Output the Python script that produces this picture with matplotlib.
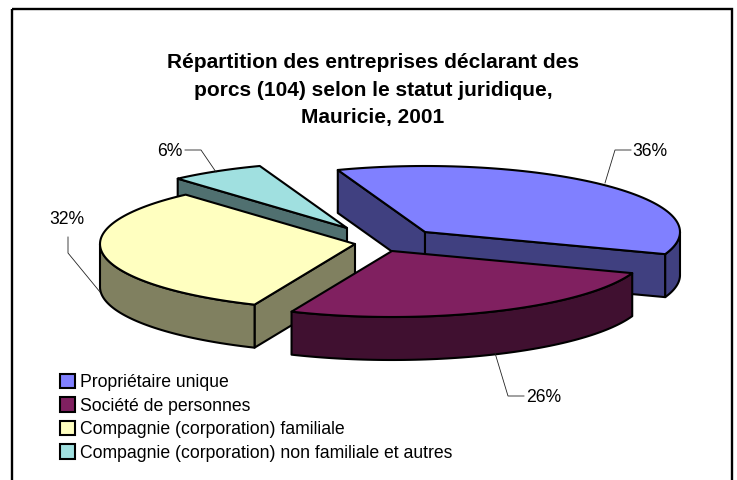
import numpy as np
import matplotlib
matplotlib.use("Agg")
import matplotlib.pyplot as plt
from matplotlib.patches import Polygon, Rectangle, Patch

plt.rcParams['font.family'] = ['Liberation Sans', 'DejaVu Sans']

title = "Répartition des entreprises déclarant des\nporcs (104) selon le statut juridique,\nMauricie, 2001"
categories = ["Propriétaire unique", "Société de personnes",
              "Compagnie (corporation) familiale",
              "Compagnie (corporation) non familiale et autres"]
values = [36, 26, 32, 6]
top_colors = ["#8080FF", "#802060", "#FFFFC0", "#A0E0E0"]
wall_colors = ["#404080", "#401030", "#808060", "#507070"]
apexes = [(425, 232), (392, 251), (355, 244), (347, 228)]   # exploded slice centres
draw_order = [0, 3, 2, 1]
start_angle = 110
RX, RY, DEPTH = 255, 66, 43
EDGE = 1.5

fig = plt.figure(figsize=(7.37, 4.80), dpi=100, facecolor="white")
ax = fig.add_axes([0, 0, 1, 1])
ax.set_xlim(0, 737)
ax.set_ylim(480, 0)
ax.axis("off")

ax.add_patch(Rectangle((12, 9), 720, 490, fill=False, ec="black", lw=1.7))


def rim(c, a0, a1, drop=0):
    t = np.radians(np.linspace(a0, a1, 80))
    return np.column_stack([c[0] + RX * np.cos(t), c[1] - RY * np.sin(t) + drop])


def wall(c, pts, color):
    verts = np.vstack([pts, (pts + [0, DEPTH])[::-1]])
    ax.add_patch(Polygon(verts, closed=True, fc=color, ec="black", lw=EDGE, joinstyle="round"))


edges = start_angle - np.cumsum([0] + values) * 3.6
for i in draw_order:
    c, a0, a1 = apexes[i], edges[i], edges[i + 1]
    for a, vis in ((a0, np.cos(np.radians(a0)) < 0), (a1, np.cos(np.radians(a1)) > 0)):
        if vis:
            wall(c, np.vstack([c, rim(c, a, a, 0)[:1]]), wall_colors[i])
    # front part of the outer rim (sin < 0), angles run clockwise
    for k in range(-1, 1):
        lo, hi = max(a1, -180 + 360 * k), min(a0, 360 * k)
        if hi > lo:
            wall(c, rim(c, hi, lo), wall_colors[i])
    ax.add_patch(Polygon(np.vstack([c, rim(c, a0, a1)]), closed=True, fc=top_colors[i],
                         ec="black", lw=EDGE, joinstyle="round"))

ax.text(373, 90, title, ha="center", va="center", fontsize=15, fontweight="bold",
        linespacing=1.59, color="black")

labels = [f"{v}%" for v in values]
leaders = [[(605, 183), (615, 150), (631, 150)],
           [(495, 353), (508, 396), (524, 396)],
           [(100, 292), (68, 253), (68, 237)],
           [(216, 172), (201, 150), (185, 150)]]
label_pos = [(632, 151.5, "left"), (526, 397.5, "left"), (67, 219.5, "center"), (183, 151.5, "right")]
for lab, line, (x, y, ha) in zip(labels, leaders, label_pos):
    ax.plot(*zip(*line), color="#222222", lw=0.6, solid_joinstyle="miter")
    ax.text(x, y, lab, ha=ha, va="center", fontsize=12.7, color="black")

handles = [Patch(fc=col, ec="black", lw=EDGE) for col in top_colors]
ax.legend(handles, categories, loc="upper left", bbox_to_anchor=(60 / 737, 1 - 374 / 480),
          frameon=False, fontsize=12.7, handlelength=0.85, handleheight=0.85,
          handletextpad=0.28, labelspacing=0.36, borderpad=0, borderaxespad=0)

fig.savefig("out.png", dpi=100)
